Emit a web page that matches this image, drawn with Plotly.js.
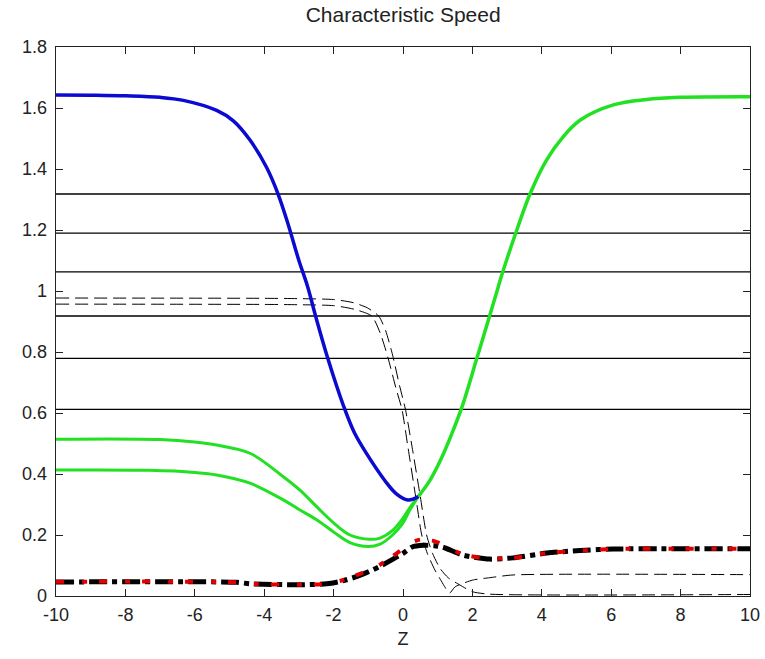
<!DOCTYPE html>
<html>
<head>
<meta charset="utf-8">
<script src="https://cdn.plot.ly/plotly-3.0.1.min.js"></script>
<style>html,body{margin:0;padding:0;background:#fff;}#chart{width:765px;height:659px;}</style>
</head>
<body>
<div id="chart"></div>
<script>
// Horizontal reference levels
const levels = [1.318, 1.19, 1.063, 0.918, 0.779, 0.612];

// Blue branch (left, decreasing)
const blueX = [-10, -9, -8, -7, -6.33, -5.37, -4.89, -4.41, -3.93, -3.6, -3.3, -3.0, -2.75, -2.52, -2.17, -1.72, -1.4, -1.04, -0.52, -0.2, 0.14, 0.3, 0.44];
const blueY = [1.643, 1.642, 1.640, 1.635, 1.625, 1.592, 1.558, 1.495, 1.405, 1.318, 1.215, 1.1, 1.015, 0.918, 0.78, 0.625, 0.535, 0.465, 0.378, 0.336, 0.315, 0.318, 0.326];

// Green branch (right, increasing)
const greenRX = [0.44, 0.78, 1.1, 1.4, 1.70, 2.13, 2.5, 2.71, 2.84, 3.28, 3.66, 4.14, 4.62, 5.1, 6.06, 7.02, 7.98, 10];
const greenRY = [0.326, 0.38, 0.45, 0.53, 0.62, 0.78, 0.92, 1.0, 1.05, 1.2, 1.318, 1.43, 1.506, 1.56, 1.61, 1.628, 1.635, 1.637];

// Green lower branches (left)
const greenAX = [-10, -7, -6, -5.37, -4.41, -3.45, -2.97, -2.49, -2, -1.53, -0.95, -0.66, -0.3, 0, 0.2, 0.44];
const greenAY = [0.514, 0.513, 0.505, 0.495, 0.468, 0.391, 0.347, 0.293, 0.24, 0.2, 0.186, 0.19, 0.215, 0.255, 0.29, 0.326];
const greenBX = [-10, -7.3, -6, -5.37, -4.41, -3.45, -2.97, -2.49, -2, -1.53, -1.0, -0.66, -0.3, 0, 0.2, 0.44];
const greenBY = [0.413, 0.412, 0.405, 0.397, 0.37, 0.315, 0.282, 0.25, 0.21, 0.175, 0.162, 0.17, 0.2, 0.24, 0.283, 0.326];

// Thin dashed curves
const dashAX = [-10, -4, -3, -2, -1.44, -1.03, -0.7, -0.5, -0.3, -0.1, 0.07, 0.26, 0.5, 0.68, 0.85, 1.07, 1.3, 1.64, 2.0, 2.5, 10];
const dashAY = [0.977, 0.976, 0.975, 0.972, 0.962, 0.945, 0.918, 0.87, 0.79, 0.69, 0.612, 0.49, 0.325, 0.2, 0.14, 0.09, 0.06, 0.036, 0.014, 0.006, 0.005];
const dashBX = [-10, -4, -3, -2, -1.4, -0.9, -0.65, -0.43, -0.2, -0.03, 0.14, 0.4, 0.54, 0.7, 0.92, 1.1, 1.26, 1.35, 1.5, 2.0, 2.5, 3.17, 10];
const dashBY = [0.957, 0.956, 0.955, 0.952, 0.94, 0.918, 0.86, 0.78, 0.68, 0.612, 0.49, 0.3, 0.2, 0.14, 0.085, 0.05, 0.02, 0.01, 0.03, 0.052, 0.06, 0.069, 0.07];

// Dash-dot curves (black and red)
const blackX = [-10, -4.8, -4.4, -3, -2.2, -1.8, -1.3, -0.7, -0.3, 0, 0.25, 0.6, 0.9, 1.15, 1.73, 2.5, 3.17, 4.15, 5.1, 6.06, 10];
const blackY = [0.046, 0.045, 0.04, 0.037, 0.04, 0.048, 0.065, 0.095, 0.12, 0.14, 0.16, 0.166, 0.165, 0.16, 0.134, 0.121, 0.125, 0.141, 0.149, 0.154, 0.155];
const redX = [-10, -4.8, -4.4, -3, -2.2, -1.8, -1.3, -0.7, -0.3, 0, 0.3, 0.5, 0.9, 1.15, 1.73, 2.5, 3.17, 4.15, 5.1, 6.06, 10];
const redY = [0.047, 0.045, 0.04, 0.037, 0.04, 0.05, 0.07, 0.1, 0.13, 0.155, 0.178, 0.185, 0.18, 0.168, 0.136, 0.122, 0.125, 0.141, 0.149, 0.154, 0.155];

const xTicks = [-10, -8, -6, -4, -2, 0, 2, 4, 6, 8, 10];
const yTicks = [0, 0.2, 0.4, 0.6, 0.8, 1, 1.2, 1.4, 1.6, 1.8];

const traces = [];
levels.forEach(v => traces.push({x: [-10, 10], y: [v, v], mode: 'lines', line: {color: '#000', width: 1.3}, hoverinfo: 'skip'}));
traces.push({x: dashAX, y: dashAY, mode: 'lines', line: {color: '#000', width: 1, dash: '13px,6px', shape: 'spline', smoothing: 0.6}});
traces.push({x: dashBX, y: dashBY, mode: 'lines', line: {color: '#000', width: 1, dash: '13px,6px', shape: 'spline', smoothing: 0.6}});
traces.push({x: greenAX, y: greenAY, mode: 'lines', line: {color: '#22e022', width: 3, shape: 'spline', smoothing: 1}});
traces.push({x: greenBX, y: greenBY, mode: 'lines', line: {color: '#22e022', width: 3, shape: 'spline', smoothing: 1}});
traces.push({x: greenRX, y: greenRY, mode: 'lines', line: {color: '#22e022', width: 3.5, shape: 'spline', smoothing: 1}});
traces.push({x: blueX, y: blueY, mode: 'lines', line: {color: '#0a0ad0', width: 3.5, shape: 'spline', smoothing: 1}});
traces.push({x: blackX, y: blackY, mode: 'lines', line: {color: '#000', width: 5, dash: '18px,5px,5px,5px', shape: 'spline', smoothing: 0.6}});
traces.push({x: redX, y: redY, mode: 'lines', line: {color: '#e00000', width: 4, dash: '8px,18px,5px,12px', shape: 'spline', smoothing: 0.6}});

const font = {family: '"Liberation Sans", Arial, sans-serif', color: '#222'};
const layout = {
  width: 765, height: 659,
  margin: {l: 56, r: 15, t: 47, b: 63},
  paper_bgcolor: '#fff', plot_bgcolor: '#fff',
  showlegend: false,
  title: {text: 'Characteristic Speed', font: Object.assign({size: 21}, font), x: 0.527, xanchor: 'center', y: 0.978, yanchor: 'middle'},
  xaxis: {
    range: [-10, 10], tickvals: xTicks, ticktext: xTicks.map(String),
    ticks: 'inside', ticklen: 7, tickcolor: '#222', tickwidth: 1,
    showline: true, linecolor: '#222', linewidth: 1.3, mirror: 'ticks',
    showgrid: false, zeroline: false, tickfont: Object.assign({size: 18}, font),
    ticklabelstandoff: 2,
    title: {text: 'Z', font: Object.assign({size: 18}, font), standoff: 8}
  },
  yaxis: {
    range: [0, 1.8], tickvals: yTicks, ticktext: yTicks.map(String),
    ticks: 'inside', ticklen: 7, tickcolor: '#222', tickwidth: 1,
    showline: true, linecolor: '#222', linewidth: 1.3, mirror: 'ticks',
    showgrid: false, zeroline: false, tickfont: Object.assign({size: 18}, font),
    ticklabelstandoff: 4
  }
};
Plotly.newPlot('chart', traces, layout, {displayModeBar: false, staticPlot: true});
</script>
</body>
</html>
